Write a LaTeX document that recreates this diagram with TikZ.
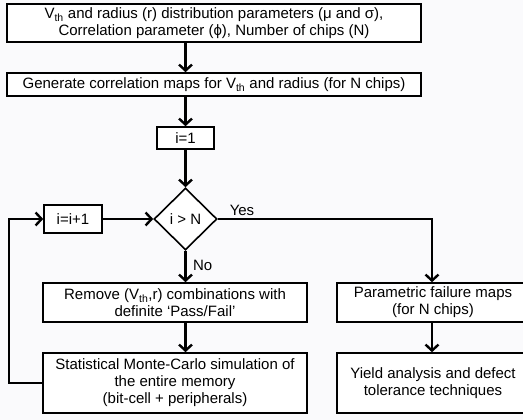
\documentclass[tikz,border=0pt]{standalone}
\usepackage{fontspec}
\setmainfont{Liberation Sans}
\usetikzlibrary{shapes.geometric,arrows.meta}
\definecolor{bg}{RGB}{250,250,252}
\tikzset{
  box/.style={draw, line width=1.6pt, fill=white, align=center, inner sep=1pt, font=\fontsize{15}{17}\selectfont},
  dia/.style={draw, diamond, line width=1.6pt, fill=white, inner sep=0pt, font=\fontsize{15}{16}\selectfont},
  flow/.style={line width=2.4pt, -{Straight Barb[length=6pt,width=13pt,line width=2.4pt]}},
  lab/.style={font=\fontsize{15}{16}\selectfont}
}
\begin{document}
\begin{tikzpicture}[x=1pt,y=-1pt]
\fill[bg] (0,0) rectangle (523,420);
\useasboundingbox (0,0) rectangle (523,420);
\node[box, minimum width=414pt, minimum height=38pt] (b1) at (214,23) {V\textsubscript{th} and radius (r) distribution parameters (μ and σ),\\Correlation parameter (ϕ), Number of chips (N)};
\node[box, minimum width=414pt, minimum height=23pt] (b2) at (214,84.5) {Generate correlation maps for V\textsubscript{th} and radius (for N chips)};
\node[box, minimum width=57pt, minimum height=22pt] (i1) at (185.5,138) {i=1};
\node[dia, minimum width=63pt, minimum height=62pt] (d) at (185.5,219) {i {>} N};
\node[box, minimum width=58pt, minimum height=28pt] (inc) at (73,219) {i=i+1};
\node[box, minimum width=264pt, minimum height=39pt] (rem) at (175,302.5) {Remove (V\textsubscript{th},r) combinations with\\definite ‘Pass/Fail’};
\node[box, minimum width=264pt, minimum height=60pt] (mc) at (175,383) {Statistical Monte-Carlo simulation of\\the entire memory\\(bit-cell + peripherals)};
\node[box, minimum width=192pt, minimum height=39pt] (pf) at (433,302.5) {Parametric failure maps\\(for N chips)};
\node[box, minimum width=192pt, minimum height=60pt] (ya) at (433,383) {Yield analysis and defect\\tolerance techniques};
\coordinate (lb) at (9,383);
\coordinate (lt) at (9,219);
\coordinate (yc) at (432,219);
\draw[flow] (b1.south -| d.north) -- (b2.north -| d.north);
\draw[flow] (b2.south -| d.north) -- (i1.north);
\draw[flow] (i1.south) -- (d.north);
\draw[flow] (d.south) -- (rem.north -| d.south) node[lab, pos=0.45, right=3pt] {No};
\draw[flow] (rem.south -| d.south) -- (mc.north -| d.south);
\draw[flow] (inc.east) -- (d.west);
\draw[flow] (mc.west) -- (lb) -- (lt) -- (inc.west);
\draw[flow] (d.east) -- (yc) -- (pf.north -| yc);
\node[lab] (yes) at (242,210) {Yes};
\draw[flow] (pf.south -| yc) -- (ya.north -| yc);
\end{tikzpicture}
\end{document}
